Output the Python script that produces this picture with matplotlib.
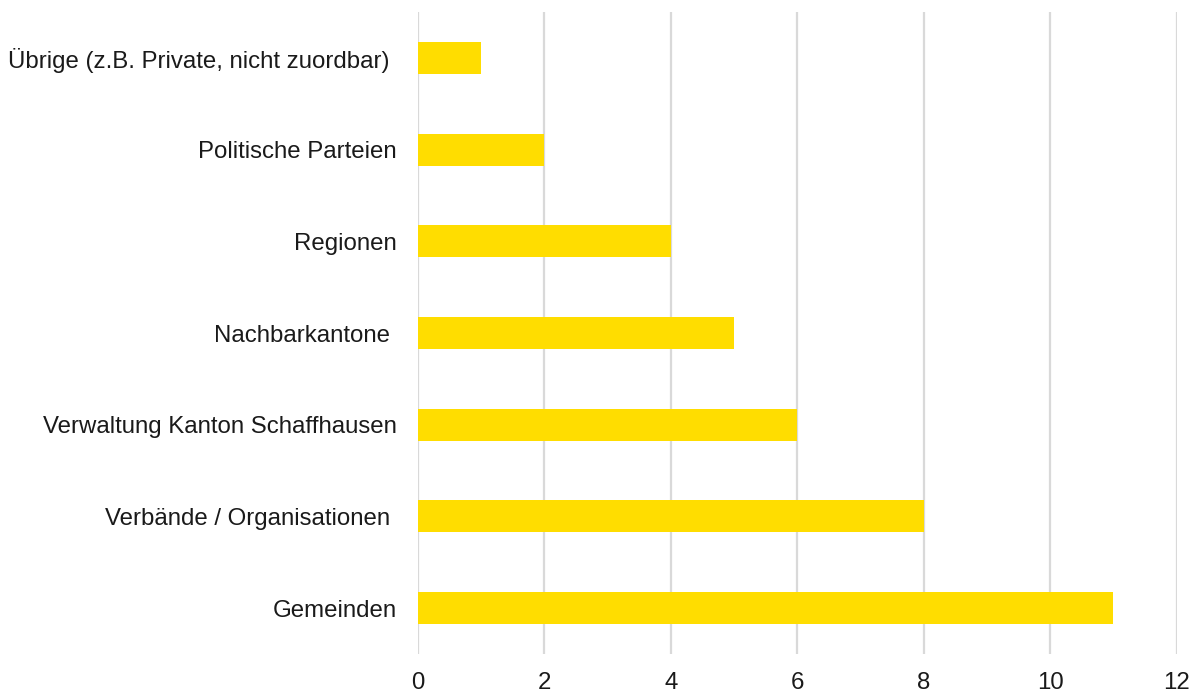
import matplotlib
matplotlib.use("Agg")
import matplotlib.pyplot as plt

categories = [
    "Gemeinden",
    "Verbände / Organisationen ",
    "Verwaltung Kanton Schaffhausen",
    "Nachbarkantone ",
    "Regionen",
    "Politische Parteien",
    "Übrige (z.B. Private, nicht zuordbar) ",
]
values = [11, 8, 6, 5, 4, 2, 1]
xticks = [0, 2, 4, 6, 8, 10, 12]

plt.rcParams['font.family'] = ['Liberation Sans', 'DejaVu Sans']

W, H = 1192, 693
fig = plt.figure(figsize=(W / 100, H / 100), dpi=100)
left, right, top, bottom = 418, 1176.5, 12, 654
ax = fig.add_axes([left / W, 1 - bottom / H, (right - left) / W, (bottom - top) / H])

ax.barh(range(len(categories)), values, height=0.35, color="#FFDD00", zorder=3)
ax.set_ylim(-0.5, len(categories) - 0.5)
ax.set_xlim(0, 12)
ax.set_xticks(xticks)
ax.set_xticklabels([str(t) for t in xticks])
ax.set_yticks(range(len(categories)))
ax.set_yticklabels(categories)
ax.xaxis.grid(True, color="#D9D9D9", linewidth=1.6, zorder=0)
ax.set_axisbelow(True)
for s in ax.spines.values():
    s.set_visible(False)
ax.tick_params(axis="both", length=0, labelsize=17.3, colors="#1a1a1a")
ax.tick_params(axis="y", pad=15.5)
ax.tick_params(axis="x", pad=13)

fig.savefig("out.png", dpi=100)
